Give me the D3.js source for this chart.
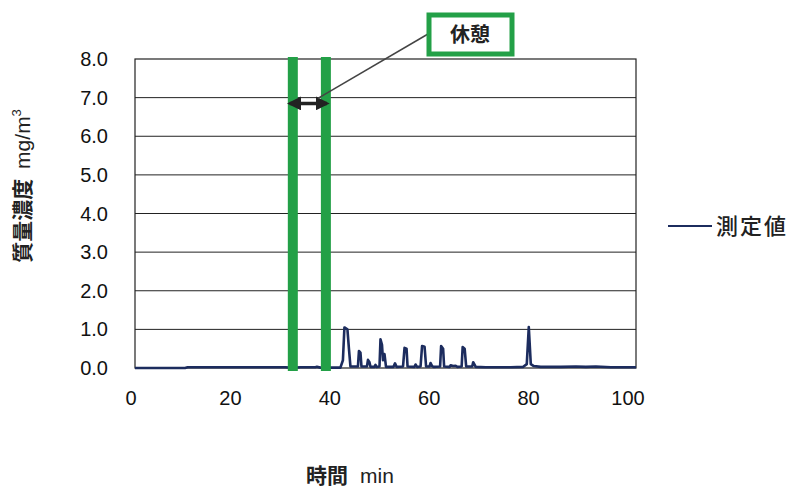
<!DOCTYPE html>
<html>
<head>
<meta charset="utf-8">
<script src="https://cdn.jsdelivr.net/npm/d3@7"></script>
<style>
  body { margin: 0; background: #fff; }
  text { font-family: "Liberation Sans", Arial, sans-serif; }
  .jp { font-family: "Noto Sans CJK JP", sans-serif; }
</style>
</head>
<body>
<svg id="chart" width="793" height="490"></svg>
<script>
// measured concentration over time (min, mg/m3)
var times = [0, 10, 10.5, 20, 30, 31, 32, 33, 36, 36.3, 37, 39, 41,
  41.5, 41.8, 42.4, 42.7, 43, 44.5, 44.7, 45.0, 45.2, 46.3, 46.5, 46.8, 47,
  47.8, 48, 48.2, 48.8, 49.0, 49.3, 49.5, 49.8, 50.1, 51.6, 51.9, 52.2,
  53.5, 53.8, 54.2, 54.4, 55.8, 56, 56.3, 57.0, 57.3, 57.8, 58.1, 58.8, 59, 59.3, 59.6,
  60.9, 61.1, 61.5, 61.7, 62.8, 63, 63.5, 64, 64.3, 65.2, 65.4, 65.8, 66.1,
  67.3, 67.5, 67.8, 68, 70, 75, 77.5, 78.2, 78.6, 79, 79.6, 81, 85, 88, 90, 92, 95, 100];
var values = [0, 0, 0.02, 0.02, 0.02, 0.01, 0.01, 0.02, 0.02, 0.03, 0.01, 0.01, 0.01,
  0.2, 1.05, 1.0, 0.5, 0.04, 0.04, 0.44, 0.4, 0.04, 0.04, 0.21, 0.15, 0.03,
  0.03, 0.08, 0.03, 0.04, 0.74, 0.6, 0.2, 0.36, 0.03, 0.03, 0.12, 0.03,
  0.04, 0.52, 0.5, 0.04, 0.03, 0.09, 0.03, 0.04, 0.57, 0.55, 0.04, 0.04, 0.13, 0.05, 0.03,
  0.04, 0.57, 0.5, 0.04, 0.03, 0.07, 0.05, 0.06, 0.03, 0.04, 0.54, 0.5, 0.04,
  0.04, 0.15, 0.08, 0.03, 0.02, 0.02, 0.03, 0.1, 1.06, 0.1, 0.05, 0.03, 0.03, 0.04, 0.03, 0.04, 0.02, 0.02];
var xTicks = [0, 20, 40, 60, 80, 100];
var yTicks = [0, 1, 2, 3, 4, 5, 6, 7, 8];
var breakTimes = [31.5, 38.1];   // rest period markers
var breakLabel = "休憩";
var seriesName = "測定値";

var svg = d3.select("#chart");
var x = d3.scaleLinear().domain([0, 100]).range([135, 636]);
var y = d3.scaleLinear().domain([0, 8]).range([368, 59]);
var green = "#23a047";
var navy = "#1c2c5e";

// gridlines
svg.selectAll("line.grid")
    .data(yTicks.slice(1, -1))
    .enter().append("line")
    .attr("class", "grid")
    .attr("x1", x(0)).attr("x2", x(100))
    .attr("y1", function(d) { return y(d); })
    .attr("y2", function(d) { return y(d); })
    .attr("stroke", "#222").attr("stroke-width", 1);

svg.append("rect")
    .attr("x", x(0)).attr("y", y(8))
    .attr("width", x(100) - x(0)).attr("height", y(0) - y(8))
    .attr("fill", "none").attr("stroke", "#222").attr("stroke-width", 1.2);

// tick labels
svg.selectAll("text.ytick")
    .data(yTicks)
    .enter().append("text")
    .attr("x", 108)
    .attr("y", function(d) { return y(d) + 7; })
    .attr("text-anchor", "end")
    .attr("font-size", 20)
    .attr("fill", "#111")
    .text(function(d) { return d.toFixed(1); });

svg.selectAll("text.xtick")
    .data(xTicks)
    .enter().append("text")
    .attr("x", function(d) { return x(d) - 4 - d * 0.04; })
    .attr("y", 405)
    .attr("text-anchor", "middle")
    .attr("font-size", 20)
    .attr("fill", "#111")
    .text(function(d) { return d; });

// data line
var line = d3.line()
    .x(function(d, i) { return x(times[i]); })
    .y(function(d) { return y(d); });
svg.append("path")
    .datum(values)
    .attr("d", line)
    .attr("fill", "none")
    .attr("stroke", navy)
    .attr("stroke-width", 2.6)
    .attr("stroke-linejoin", "round");

// rest markers
svg.selectAll("rect.brk")
    .data(breakTimes)
    .enter().append("rect")
    .attr("x", function(d) { return x(d) - 5; })
    .attr("y", y(8) - 2)
    .attr("width", 10)
    .attr("height", y(0) - y(8) + 5)
    .attr("fill", green);

// double arrow between markers
var defs = svg.append("defs");
defs.append("marker")
    .attr("id", "ah")
    .attr("viewBox", "0 0 10 10")
    .attr("refX", 8).attr("refY", 5)
    .attr("markerWidth", 4).attr("markerHeight", 4)
    .attr("orient", "auto-start-reverse")
    .append("path").attr("d", "M0,0 L10,5 L0,10 z").attr("fill", "#222");

var ay = y(6.85);
svg.append("line")
    .attr("x1", x(breakTimes[0]) - 3).attr("x2", x(breakTimes[1]) + 1)
    .attr("y1", ay).attr("y2", ay)
    .attr("stroke", "#222").attr("stroke-width", 3.5)
    .attr("marker-start", "url(#ah)").attr("marker-end", "url(#ah)");

// callout
svg.append("line")
    .attr("x1", x(36.5)).attr("y1", ay - 5)
    .attr("x2", 428).attr("y2", 34)
    .attr("stroke", "#444").attr("stroke-width", 1.5);

svg.append("rect")
    .attr("x", 429).attr("y", 15)
    .attr("width", 83).attr("height", 39)
    .attr("fill", "#fff")
    .attr("stroke", green).attr("stroke-width", 5);

svg.append("text")
    .attr("class", "jp")
    .attr("x", 470).attr("y", 42)
    .attr("text-anchor", "middle")
    .attr("font-size", 20).attr("font-weight", "bold")
    .attr("fill", "#222")
    .text(breakLabel);

// axis titles
var yt = svg.append("text")
    .attr("transform", "translate(30,186) rotate(-90)")
    .attr("text-anchor", "middle")
    .attr("font-size", 21)
    .attr("fill", "#222");
yt.append("tspan").attr("class", "jp").attr("font-weight", "bold").text("質量濃度");
yt.append("tspan").attr("dx", 10).text("mg/m");
yt.append("tspan").attr("font-size", 13).attr("dy", -9).text("3");

var xt = svg.append("text")
    .attr("x", 350).attr("y", 483)
    .attr("text-anchor", "middle")
    .attr("font-size", 21)
    .attr("fill", "#222");
xt.append("tspan").attr("class", "jp").attr("font-weight", "bold").text("時間");
xt.append("tspan").attr("dx", 12).text("min");

// legend
svg.append("line")
    .attr("x1", 668).attr("x2", 712)
    .attr("y1", 226).attr("y2", 226)
    .attr("stroke", navy).attr("stroke-width", 2);
svg.append("text")
    .attr("class", "jp")
    .attr("x", 716).attr("y", 234)
    .attr("font-size", 22)
    .attr("font-weight", 500)
    .attr("letter-spacing", 2)
    .attr("fill", "#222")
    .text(seriesName);
</script>
</body>
</html>
